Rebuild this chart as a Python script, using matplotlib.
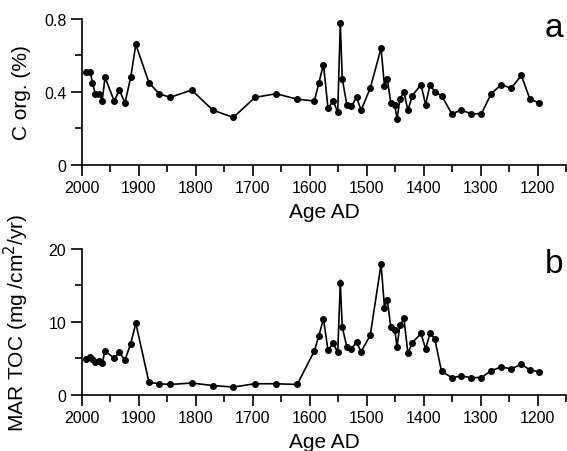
import matplotlib.pyplot as plt

# ages shared by both records (years AD)
age = [1992, 1985, 1981, 1976, 1969, 1964, 1959, 1943, 1934, 1924, 1914, 1905,
       1882, 1864, 1845, 1807, 1770, 1734, 1696, 1659, 1622, 1592, 1584, 1576,
       1568, 1559, 1551, 1546.5, 1543, 1535, 1527, 1518, 1510, 1494, 1475, 1469,
       1464, 1458, 1451, 1447, 1442, 1435, 1428, 1420, 1405, 1397, 1389, 1381,
       1369, 1351, 1334, 1317, 1299, 1282, 1264, 1247, 1229, 1214, 1198]

# organic carbon (%)
corg = [0.51, 0.51, 0.45, 0.39, 0.39, 0.35, 0.48, 0.35, 0.41, 0.34, 0.48, 0.66,
        0.45, 0.39, 0.37, 0.41, 0.30, 0.26, 0.37, 0.39, 0.36, 0.35, 0.45, 0.55,
        0.31, 0.35, 0.29, 0.775, 0.47, 0.33, 0.32, 0.37, 0.30, 0.42, 0.64, 0.43,
        0.47, 0.34, 0.33, 0.25, 0.36, 0.40, 0.30, 0.38, 0.44, 0.33, 0.44, 0.40,
        0.38, 0.28, 0.30, 0.28, 0.28, 0.39, 0.44, 0.42, 0.49, 0.36, 0.34]

# mass accumulation rate of TOC (mg/cm2/yr)
mar = [4.9, 5.2, 4.9, 4.45, 4.65, 4.35, 6.0, 5.0, 5.8, 4.75, 7.0, 9.8,
       1.7, 1.5, 1.4, 1.6, 1.25, 1.05, 1.5, 1.5, 1.4, 6.0, 8.1, 10.4,
       6.1, 7.05, 5.8, 15.3, 9.3, 6.5, 6.3, 7.2, 5.9, 8.15, 17.9, 11.95,
       13.0, 9.3, 8.9, 6.6, 9.5, 10.5, 5.7, 7.15, 8.4, 6.3, 8.4, 7.7,
       3.2, 2.35, 2.55, 2.35, 2.35, 3.3, 3.8, 3.55, 4.15, 3.4, 3.15]

# small error bars visible on the peaks
corg_err = [0.0] * len(age)
corg_err[27] = 0.02
mar_err = [0.0] * len(age)
mar_err[27] = 0.6
mar_err[34] = 0.4

plt.rcParams['font.family'] = ['Liberation Sans', 'DejaVu Sans']

fig = plt.figure(figsize=(5.67, 4.52), dpi=100)
ax1 = fig.add_axes([0.144, 0.633, 0.855, 0.323])
ax2 = fig.add_axes([0.144, 0.1246, 0.855, 0.3224])


def style(ax, ylim, major, minor, ylabel):
    ax.errorbar(age, ylim[2], yerr=ylim[3], color='black', lw=1.2,
                marker='o', ms=4, elinewidth=1, capsize=0)
    ax.set_xlim(2000, 1150)
    ax.set_ylim(ylim[0], ylim[1])
    ax.set_xticks(range(2000, 1150, -100))
    ax.set_xticks(range(1950, 1149, -100), minor=True)
    ax.set_yticks(major)
    ax.set_yticks(minor, minor=True)
    for s in ['top', 'right']:
        ax.spines[s].set_visible(False)
    for s in ['left', 'bottom']:
        ax.spines[s].set_linewidth(1.2)
    ax.tick_params(which='major', length=8, width=1.2, labelsize=11.5, pad=3)
    ax.tick_params(which='minor', length=5, width=1.2)
    ax.set_xlabel('Age AD', fontsize=15, labelpad=5)
    ax.set_ylabel(ylabel, fontsize=15)
    ax.yaxis.set_label_coords(-0.105, 0.5)


style(ax1, (0, 0.8, corg, corg_err), [0, 0.4, 0.8], [0.2, 0.6], 'C org. (%)')
ax1.set_yticklabels(['0', '0.4', '0.8'])
style(ax2, (0, 20, mar, mar_err), [0, 10, 20], [5, 15],
      'MAR TOC (mg /cm$^2$/yr)')

fig.text(0.993, 0.918, 'a', fontsize=24, ha='right')
fig.text(0.993, 0.396, 'b', fontsize=24, ha='right')

fig.savefig('out.png', dpi=100)
